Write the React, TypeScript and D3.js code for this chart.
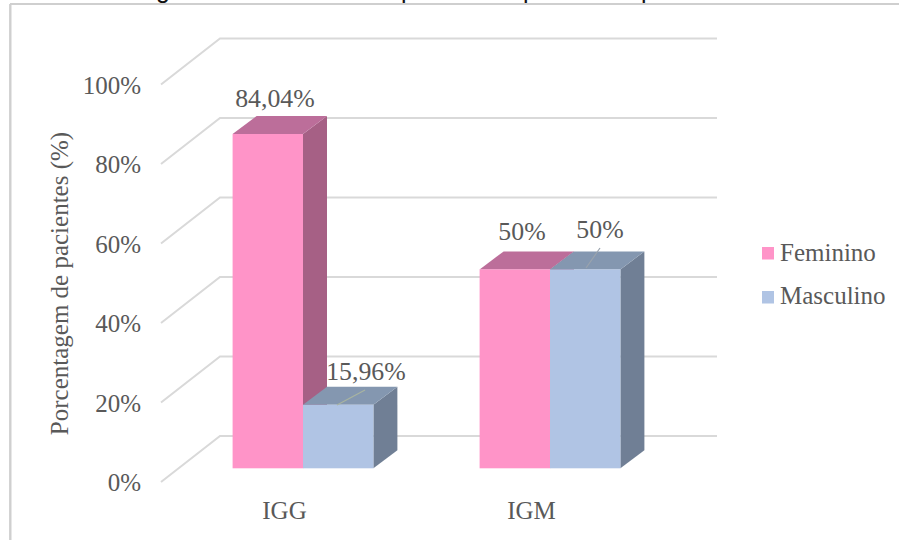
import React from "react";
import * as d3 from "d3";

const categories = ["IGG", "IGM"];
const seriesNames = ["Feminino", "Masculino"];
const feminino = [84.04, 50];
const masculino = [15.96, 50];
const valueLabels = [["84,04%", "50%"], ["15,96%", "50%"]];
const yTicks = [0, 20, 40, 60, 80, 100];

const INK = "#595959";
const GRID = "#d9d9d9";
const FONT = "'Liberation Serif', serif";
const SIZE = 25;
const VALUE_SIZE = 25.8;

const palette = [
  { front: "#ff94c8", side: "#a66085", top: "#bc6e9a" },
  { front: "#b0c4e4", side: "#707f95", top: "#8497b0" },
];

// Floor depth of the 3D box, and the shallower depth of each column.
const WALL_DX = 59;
const WALL_DY = 46;
const BAR_DX = 24;
const BAR_DY = 18;
const BAR_W = 70.4;

const yBar = d3.scaleLinear().domain([0, 100]).range([468.3, 70.5]);
const yWall = d3.scaleLinear().domain([0, 100]).range([436, 38.5]);
const groupCentre = d3.scalePoint<string>().domain(categories).range([303, 550]);

const series = [feminino, masculino];

// Nudges that keep each data label clear of its column, by series then category.
const labelPos = [
  [{ x: 275, y: 107 }, { x: 522, y: 240 }],
  [{ x: 366, y: 380 }, { x: 600, y: 238 }],
];
const leaders = [
  { x1: 337, y1: 405, x2: 365, y2: 390, stroke: "#a8b4a0" },
  { x1: 586, y1: 268, x2: 600, y2: 248, stroke: "#9aa3ad" },
];

const poly = (pts: [number, number][]) => pts.map((p) => p.join(",")).join(" ");

function Bar({ x, value, colors }: { x: number; value: number; colors: typeof palette[0] }) {
  const y0 = yBar(0);
  const y1 = yBar(value);
  const x1 = x + BAR_W;
  return (
    <g>
      <polygon
        fill={colors.side}
        points={poly([[x1, y1], [x1 + BAR_DX, y1 - BAR_DY], [x1 + BAR_DX, y0 - BAR_DY], [x1, y0]])}
      />
      <polygon
        fill={colors.top}
        points={poly([[x, y1], [x + BAR_DX, y1 - BAR_DY], [x1 + BAR_DX, y1 - BAR_DY], [x1, y1]])}
      />
      <rect x={x} y={y1} width={BAR_W} height={y0 - y1} fill={colors.front} />
    </g>
  );
}

export default function App() {
  return (
    <svg
      width={899}
      height={540}
      viewBox="0 0 899 540"
      style={{ position: "absolute", left: 0, top: 0, background: "#fff" }}
      fontFamily={FONT}
      fontSize={SIZE}
      fill={INK}
    >
      {/* Heading runs off the top edge; only its descenders remain in view. */}
      <g fontFamily="'Liberation Sans', sans-serif" fontSize={25} fill="#111">
        <text x={156} y={-2.5}>g</text>
        <text x={401} y={-2.5}>p</text>
        <text x={523} y={-2.5}>p</text>
        <text x={641} y={-2.5}>p</text>
      </g>

      {/* Chart frame */}
      <line x1={10} x2={899} y1={4} y2={4} stroke="#cfcfcf" strokeWidth={2} />
      <line x1={10.3} x2={10.3} y1={4} y2={540} stroke="#cfcfcf" strokeWidth={2.4} />

      {/* Gridlines on the back wall and their run across the side wall */}
      {yTicks.map((t) => (
        <polyline
          key={t}
          fill="none"
          stroke={GRID}
          strokeWidth={2}
          points={poly([[161, yWall(t) + WALL_DY], [161 + WALL_DX, yWall(t)], [717, yWall(t)]])}
        />
      ))}

      {yTicks.map((t) => (
        <text key={t} x={141} y={yWall(t) + WALL_DY + 9} textAnchor="end">
          {t}%
        </text>
      ))}

      <text transform="translate(68,283.5) rotate(-90)" textAnchor="middle">
        Porcentagem de pacientes (%)
      </text>

      {categories.map((c, i) => {
        const cx = groupCentre(c) as number;
        return (
          <g key={c}>
            {series.map((vals, s) => (
              <Bar
                key={s}
                x={cx + (s === 0 ? -BAR_W : 0)}
                value={vals[i]}
                colors={palette[s]}
              />
            ))}
          </g>
        );
      })}

      {leaders.map((l, i) => (
        <line key={i} {...l} strokeWidth={1.2} />
      ))}

      {series.map((_, s) =>
        categories.map((c, i) => (
          <text
            key={c + s}
            x={labelPos[s][i].x}
            y={labelPos[s][i].y}
            textAnchor="middle"
            fontSize={VALUE_SIZE}
          >
            {valueLabels[s][i]}
          </text>
        ))
      )}

      {categories.map((c) => (
        <text key={c} x={(groupCentre(c) as number) - 18.5} y={519} textAnchor="middle">
          {c}
        </text>
      ))}

      {seriesNames.map((name, i) => (
        <g key={name} transform={`translate(762,${247 + i * 44})`}>
          <rect width={12} height={12.5} fill={palette[i].front} />
          <text x={18} y={i === 0 ? 14 : 13}>{name}</text>
        </g>
      ))}
    </svg>
  );
}
